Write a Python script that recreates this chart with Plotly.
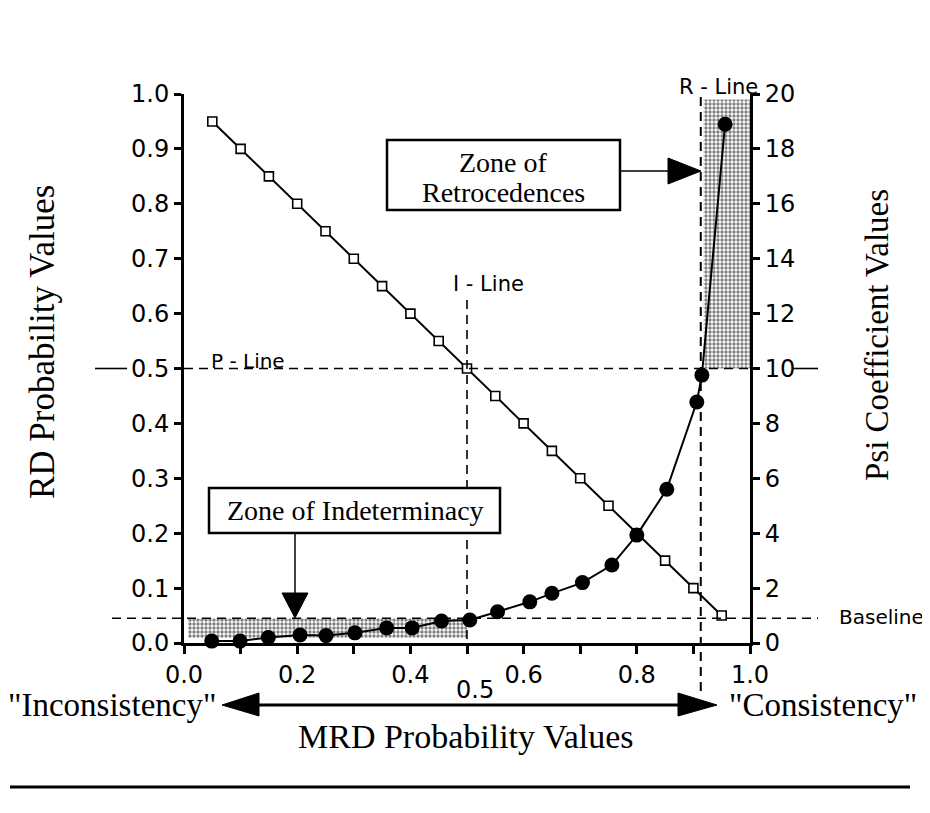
import plotly.graph_objects as go

# RD probability values (open squares, left axis)
mrd_rd = [0.05, 0.10, 0.15, 0.20, 0.25, 0.30, 0.35, 0.40, 0.45, 0.50,
          0.55, 0.60, 0.65, 0.70, 0.75, 0.80, 0.85, 0.90, 0.95]
rd_values = [0.95, 0.90, 0.85, 0.80, 0.75, 0.70, 0.65, 0.60, 0.55, 0.50,
             0.45, 0.40, 0.35, 0.30, 0.25, 0.20, 0.15, 0.10, 0.05]

# Psi coefficient values (filled circles, right axis)
mrd_psi = [0.049, 0.099, 0.149, 0.205, 0.251, 0.302, 0.358, 0.403, 0.455, 0.505,
           0.554, 0.611, 0.650, 0.704, 0.756, 0.800, 0.853, 0.906, 0.915, 0.956]
psi_values = [0.07, 0.07, 0.2, 0.29, 0.27, 0.37, 0.55, 0.55, 0.8, 0.84,
              1.14, 1.5, 1.81, 2.2, 2.84, 3.93, 5.6, 8.78, 9.76, 18.9]

x_ticks = [0.0, 0.1, 0.2, 0.3, 0.4, 0.5, 0.6, 0.7, 0.8, 0.9, 1.0]
x_labels = ["0.0", "", "0.2", "", "0.4", "", "0.6", "", "0.8", "", "1.0"]
y_ticks = [0.0, 0.1, 0.2, 0.3, 0.4, 0.5, 0.6, 0.7, 0.8, 0.9, 1.0]
y_labels = ["0.0", "0.1", "0.2", "0.3", "0.4", "0.5", "0.6", "0.7", "0.8", "0.9", "1.0"]
psi_ticks = [0, 2, 4, 6, 8, 10, 12, 14, 16, 18, 20]

# reference lines and zones (in MRD / RD units)
i_line = 0.5
p_line = 0.5
r_line = 0.913
baseline = 0.045

# the page body adds an 8px margin, so the figure is 8px smaller and the
# helper below converts window pixels into paper fractions
OFF = 8
W, H = 930 - OFF, 813 - OFF
PW, PH = 566, 549
L, T = 184 - OFF, 94 - OFF
R, B = W - L - PW, H - T - PH


def px(x):
    return (x - OFF - L) / PW


def py(y):
    return (T + PH - (y - OFF)) / PH


SANS = "DejaVu Sans"
SERIF = "Liberation Serif"
stipple = dict(shape=".", fgcolor="black", bgcolor="white", size=4, solidity=0.55)

fig = go.Figure()

# shaded zones
fig.add_trace(go.Scatter(
    x=[0.007, 0.5, 0.5, 0.007, 0.007], y=[0.009, 0.009, baseline, baseline, 0.009],
    mode="lines", fill="toself", line=dict(width=0), fillcolor="white",
    fillpattern=stipple, showlegend=False, hoverinfo="skip"))
fig.add_trace(go.Scatter(
    x=[r_line + 0.005, 1.0, 1.0, r_line + 0.005, r_line + 0.005], y=[0.5, 0.5, 0.99, 0.99, 0.5],
    mode="lines", fill="toself", line=dict(width=0), fillcolor="white",
    fillpattern=stipple, showlegend=False, hoverinfo="skip"))

fig.add_trace(go.Scatter(
    x=mrd_rd, y=rd_values, mode="lines+markers", name="RD",
    line=dict(color="black", width=2),
    marker=dict(symbol="square", size=9, color="white", line=dict(color="black", width=1.6)),
    cliponaxis=False, showlegend=False))

fig.add_trace(go.Scatter(
    x=mrd_psi, y=psi_values, mode="lines+markers", name="Psi", yaxis="y2",
    line=dict(color="black", width=2),
    marker=dict(symbol="circle", size=15, color="black"),
    cliponaxis=False, showlegend=False))

shapes = []
dash = "9px,6px"
# dashed reference lines
shapes.append(dict(type="line", xref="paper", yref="paper", x0=0, x1=1, y0=p_line, y1=p_line,
                   line=dict(color="black", width=1.6, dash=dash)))
shapes.append(dict(type="line", xref="paper", yref="paper", x0=px(112), x1=px(818),
                   y0=baseline, y1=baseline, line=dict(color="black", width=1.6, dash=dash)))
shapes.append(dict(type="line", xref="paper", yref="paper", x0=i_line, x1=i_line,
                   y0=py(300), y1=py(660), line=dict(color="black", width=1.6, dash=dash)))
shapes.append(dict(type="line", xref="paper", yref="paper", x0=r_line, x1=r_line,
                   y0=py(97), y1=py(692), line=dict(color="black", width=2, dash=dash)))

# short marks beside 0.5 and 10
shapes.append(dict(type="line", xref="paper", yref="paper", x0=px(95), x1=px(127),
                   y0=p_line, y1=p_line, line=dict(color="black", width=1.6)))
shapes.append(dict(type="line", xref="paper", yref="paper", x0=px(792), x1=px(818),
                   y0=p_line, y1=p_line, line=dict(color="black", width=1.6)))


def tri(a, b, c):
    return dict(type="path", xref="paper", yref="paper",
                path=f"M {px(a[0])},{py(a[1])} L {px(b[0])},{py(b[1])} L {px(c[0])},{py(c[1])} Z",
                fillcolor="black", line=dict(color="black", width=1))


# zone boxes
shapes.append(dict(type="rect", xref="paper", yref="paper", x0=px(209), x1=px(500),
                   y0=py(533), y1=py(488), fillcolor="white", line=dict(color="black", width=2.5)))
shapes.append(dict(type="rect", xref="paper", yref="paper", x0=px(387), x1=px(620),
                   y0=py(210), y1=py(140), fillcolor="white", line=dict(color="black", width=2.5)))

# arrows from boxes
shapes.append(dict(type="line", xref="paper", yref="paper", x0=px(295), x1=px(295),
                   y0=py(533), y1=py(594), line=dict(color="black", width=1.5)))
shapes.append(tri((282, 593), (308, 593), (295, 618)))
shapes.append(dict(type="line", xref="paper", yref="paper", x0=px(620), x1=px(669),
                   y0=py(171), y1=py(171), line=dict(color="black", width=1.5)))
shapes.append(tri((668, 158), (668, 184), (701, 171)))

# big double arrow along the bottom
shapes.append(dict(type="line", xref="paper", yref="paper", x0=px(258), x1=px(679),
                   y0=py(705), y1=py(705), line=dict(color="black", width=3)))
shapes.append(tri((259, 693), (259, 716), (222, 705)))
shapes.append(tri((678, 693), (678, 716), (717, 705)))

# bottom rule and right edge of the scan frame
shapes.append(dict(type="line", xref="paper", yref="paper", x0=px(10), x1=px(910),
                   y0=py(787), y1=py(787), line=dict(color="black", width=3)))
shapes.append(dict(type="line", xref="paper", yref="paper", x0=px(928), x1=px(928),
                   y0=py(8), y1=py(813), line=dict(color="#666", width=3, dash="2px,2px")))

annotations = []


def note(text, x, y, size, family, xanchor="center", angle=0):
    annotations.append(dict(text=text, x=px(x), y=py(y), xref="paper", yref="paper",
                            showarrow=False, xanchor=xanchor, yanchor="middle", textangle=angle,
                            font=dict(size=size, family=family, color="black")))


note("I - Line", 488, 284, 21, SANS)
note("R - Line", 718, 87, 21, SANS)
note("P - Line", 248, 361, 20, SANS)
note("Baseline", 837, 617, 20, SANS, xanchor="left")
note("0.5", 475, 690, 24, SANS)
note("Zone of Indeterminacy", 355, 510, 28, SERIF)
note("Zone of", 503, 162, 28, SERIF)
note("Retrocedences", 503, 192, 28, SERIF)
note('"Inconsistency"', 218, 705, 33, SERIF, xanchor="right")
note('"Consistency"', 727, 705, 33, SERIF, xanchor="left")
note("MRD Probability Values", 466, 737, 34, SERIF)
note("RD Probability Values", 42, 342, 35, SERIF, angle=-90)
note("Psi Coefficient Values", 877, 335, 33, SERIF, angle=-90)

fig.update_layout(
    width=W, height=H,
    margin=dict(l=L, r=R, t=T, b=B, autoexpand=False),
    paper_bgcolor="white", plot_bgcolor="white",
    showlegend=False,
    shapes=shapes,
    annotations=annotations,
    xaxis=dict(range=[0, 1], tickvals=x_ticks, ticktext=x_labels, ticks="outside",
               ticklen=8, tickwidth=2.5, tickcolor="black", showline=True, linewidth=3,
               linecolor="black", showgrid=False, zeroline=False,
               tickfont=dict(family=SANS, size=24, color="black")),
    yaxis=dict(range=[0, 1], tickvals=y_ticks, ticktext=y_labels, ticks="outside",
               ticklen=7, tickwidth=2.5, tickcolor="black", showline=True, linewidth=3,
               linecolor="black", showgrid=False, zeroline=False,
               tickfont=dict(family=SANS, size=24, color="black")),
    yaxis2=dict(range=[0, 20], tickvals=psi_ticks, overlaying="y", side="right",
                ticks="outside", ticklen=7, tickwidth=2.5, tickcolor="black",
                showline=True, linewidth=3, linecolor="black", showgrid=False,
                zeroline=False, tickfont=dict(family=SANS, size=24, color="black")),
)

fig.write_html("out.html")
